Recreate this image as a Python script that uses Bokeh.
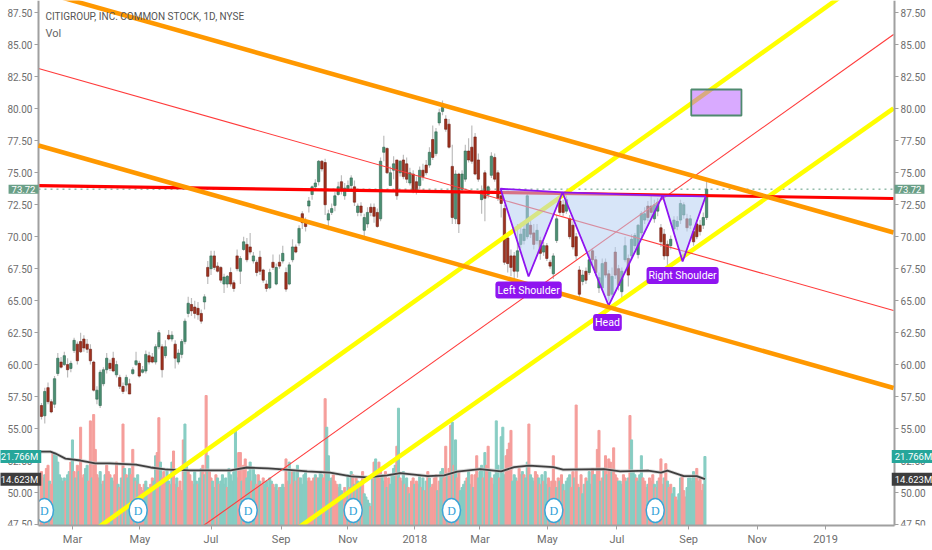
from bokeh.embed import file_html
from bokeh.resources import INLINE
from bokeh.plotting import figure
from bokeh.models import Range1d, LinearAxis, FixedTicker, Label, BoxAnnotation, ColumnDataSource

FONT = "Roboto"

title_text = "CITIGROUP, INC. COMMON STOCK, 1D, NYSE"
price_ticks = [87.5, 85, 82.5, 80, 77.5, 75, 72.5, 70, 67.5, 65, 62.5, 60, 57.5, 55, 52.5, 50, 47.5]
month_bars = [19, 60.4, 104, 147, 188, 229, 269, 310.4, 353, 397, 439, 481]
month_labels = ["Mar", "May", "Jul", "Sep", "Nov", "2018", "Mar", "May", "Jul", "Sep", "Nov", "2019"]

# one candle per two sessions
candle_open = [
 56.8,56.0,58.2,57.1,56.9,59.3,60.2,60.0,60.0,59.7, 61.1,61.6,61.8,62.0,61.6,61.2,60.2,57.3,56.8,58.5,
 59.6,60.1,60.5,59.2,59.0,58.3,58.4,58.5,59.3,60.0, 60.1,59.4,59.5,60.7,60.6,60.2,61.4,61.4,60.7,62.3,
 62.0,61.6,60.2,60.8,61.8,64.0,64.7,64.5,64.4,64.0, 64.9,67.6,67.5,68.5,67.7,67.6,66.3,66.3,67.2,66.4,
 68.5,67.3,69.0,69.4,69.2,68.1,68.0,68.4,67.4,66.3, 66.0,68.0,66.3,68.0,68.1,67.2,66.3,68.2,69.2,69.5,
 71.8,71.2,72.4,73.3,73.9,74.3,75.9,75.8,71.3,71.9, 72.45,73.3,74.3,73.2,73.7,74.0,73.9,71.9,72.4,70.5,
 71.0,72.3,72.3,71.9,71.4,76.6,76.9,74.0,75.2,76.0, 75.0,76.0,75.7,74.2,74.9,74.3,74.0,75.2,75.6,75.6,
 77.6,76.5,78.9,79.8,79.2,78.8,75.5,71.4,74.9,73.7, 74.5,76.7,77.0,77.8,76.0,72.9,75.0,73.3,74.8,76.2,
 75.0,73.2,72.2,69.9,68.5,68.5,67.3,69.4,69.7,70.0, 70.9,70.3,69.7,69.7,68.8,69.3,68.0,67.1,69.7,72.8,
 72.5,72.0,71.4,70.9,70.0,67.4,66.5,67.3,67.2,68.9, 68.2,66.0,66.0,68.0,67.1,65.5,68.8,67.5,65.7,68.2,
 68.3,68.5,69.3,68.6,70.3,71.3,72.4,72.4,71.4,72.0, 70.7,70.2,69.4,69.3,70.6,70.8,71.3,71.7,71.4,70.9,
 70.4,71.0,70.9,70.9,71.5]
candle_close = [
 55.95,57.9,57.1,56.3,58.9,60.5,59.8,60.7,59.6,60.1, 61.9,60.3,61.0,61.3,61.2,60.3,58.0,58.0,59.4,59.6,
 60.5,59.7,59.5,60.0,58.3,57.9,59.0,57.7,59.6,60.3, 59.1,59.6,60.8,60.2,60.2,61.4,62.5,59.6,61.4,62.0,
 62.3,60.5,60.9,61.8,63.4,64.8,64.2,64.0,63.9,63.4, 65.3,66.9,68.5,67.6,67.3,66.6,66.85,66.9,66.3,65.95,
 67.5,68.3,69.6,68.2,68.8,68.5,67.2,67.3,66.6,65.95, 67.2,67.6,67.6,67.7,68.7,65.9,67.8,69.2,68.8,70.65,
 71.1,70.8,72.8,73.9,74.2,75.9,75.3,72.5,71.8,72.2, 73.2,73.9,73.7,73.8,74.0,74.6,72.7,72.4,71.9,71.5,
 71.9,71.9,71.6,70.8,75.9,77.0,75.0,75.0,75.7,73.2, 75.9,74.7,74.5,75.0,73.6,73.6,75.2,74.7,75.0,76.6,
 76.2,78.2,79.7,80.1,78.4,77.0,71.5,74.9,71.0,74.9, 76.7,76.0,75.9,74.9,74.5,73.6,73.0,73.9,76.3,74.5,
 73.0,72.6,68.0,67.9,67.6,67.3,68.9,70.2,70.6,73.2, 70.2,69.4,70.5,68.7,69.3,68.3,67.7,68.5,71.4,71.9,
 71.9,72.9,70.0,69.2,68.5,65.5,67.0,66.6,68.2,68.2, 67.2,66.8,67.9,67.0,65.4,66.9,67.0,66.2,67.3,69.3,
 67.0,69.8,70.1,70.9,71.8,71.8,71.5,71.9,72.5,72.7, 69.6,68.5,68.5,69.8,71.3,71.2,72.6,72.5,70.7,71.4,
 69.6,70.0,70.4,71.5,73.72]
candle_high = [
 57.0,58.2,58.6,57.3,59.1,60.9,60.6,61.0,60.5,60.3, 62.1,61.8,62.5,62.3,62.0,61.6,60.3,58.3,59.6,59.8,
 60.9,60.4,61.0,60.3,59.2,58.6,59.2,58.9,59.8,61.0, 60.3,59.9,61.1,61.0,60.9,61.6,62.7,61.6,61.9,62.7,
 62.6,61.9,61.2,62.0,63.6,65.3,65.2,65.0,64.9,64.3, 65.5,68.1,68.9,68.9,68.0,67.7,67.1,67.0,67.6,66.6,
 69.0,68.5,70.0,69.9,70.3,68.8,68.2,68.9,67.5,66.6, 67.5,68.6,67.9,68.6,69.3,67.6,68.0,69.8,69.4,70.9,
 72.0,71.5,73.1,74.0,74.5,76.0,76.0,76.1,72.1,72.6, 73.5,74.3,74.8,74.2,74.4,74.8,74.4,72.6,72.7,71.8,
 72.3,72.6,72.6,72.2,76.2,77.9,77.0,75.5,76.3,76.0, 76.0,76.4,76.2,75.4,75.2,74.7,75.5,75.7,76.0,77.0,
 78.7,78.5,80.0,80.65,79.5,79.2,77.2,75.2,75.0,75.2, 77.2,77.7,78.7,78.1,76.5,74.0,75.2,74.0,76.6,76.5,
 75.2,73.5,72.5,70.2,69.0,68.8,71.0,71.1,71.0,73.4, 71.4,71.0,71.0,70.0,69.6,69.5,68.2,68.7,71.7,73.2,
 72.9,73.2,71.7,71.2,70.3,67.7,67.4,67.6,68.9,69.1, 68.5,67.2,68.3,68.3,67.4,67.6,69.2,67.8,67.6,70.0,
 68.6,70.2,70.3,71.0,72.0,72.3,72.8,73.2,72.9,73.0, 71.0,70.6,69.7,70.1,71.6,71.6,72.9,72.7,71.8,71.7,
 70.7,71.3,71.3,71.9,74.5]
candle_low = [
 55.7,55.4,56.9,56.2,56.6,59.1,59.7,59.9,59.0,59.4, 60.9,60.0,60.9,61.0,60.9,60.0,57.9,56.9,56.6,58.3,
 59.3,59.5,59.4,59.0,58.1,57.7,57.9,57.7,59.2,59.9, 59.0,59.3,59.3,60.0,60.1,60.0,61.2,59.0,60.5,61.9,
 61.8,59.7,60.0,60.5,61.6,63.7,63.8,63.6,63.5,63.2, 64.3,66.3,67.0,67.4,67.2,66.4,65.6,66.0,66.1,65.7,
 67.3,66.3,68.9,68.0,68.6,67.9,66.9,67.0,66.4,65.7, 65.9,67.4,66.2,67.5,67.9,65.7,66.2,68.0,68.7,69.3,
 70.6,70.4,71.9,72.9,73.6,74.0,75.1,71.7,70.5,71.7, 72.0,73.2,73.3,72.9,73.5,73.6,72.4,71.6,71.6,69.8,
 70.7,71.6,71.1,70.7,71.2,75.9,74.9,74.0,74.5,72.9, 74.7,74.5,74.2,74.0,73.4,73.3,73.7,74.4,74.8,75.4,
 76.0,76.3,78.7,79.5,78.2,76.9,71.0,71.0,70.3,73.4, 74.3,75.8,75.7,74.8,74.3,71.8,71.2,73.0,74.6,74.3,
 72.8,71.5,67.8,67.2,66.9,66.7,66.8,69.1,69.4,69.8, 69.9,69.0,69.4,68.2,68.5,68.1,67.5,66.7,69.5,71.7,
 71.6,71.8,69.8,69.0,68.2,65.0,66.2,66.3,67.0,67.9, 66.9,65.6,65.8,66.8,65.0,65.3,66.7,65.8,65.0,68.0,
 66.1,68.2,69.0,68.3,70.0,71.0,71.2,71.5,71.1,71.6, 69.2,68.2,67.6,69.0,70.3,70.5,71.0,71.4,70.4,70.6,
 69.3,69.8,70.1,70.6,71.3]

# daily volume in millions
volumes = [
 17,15,16,18,19,14,13,23,23,22, 20,16,15,14,15,14,16,17,20,27, 17,15,19,17,31,15,16,18,19,14,
 33,15,35,24,16,15,17,13,14,16, 19,17,16,15,14,16,20,13,12,15, 32,18,16,15,18,16,24,15,14,16,
 13,12,11,13,14,12,10,13,15,14, 22,23,34,20,15,17,14,18,14,13, 20,23.5,13,15,12,14,11,27,32,19,
 17,16,14,13,17,14,13,15,18,19, 16,41,22,17,15,14,12,16,15,13, 14,16,13,15,12,18,16,14,17,30,
 15,23,23,14,19,21,15,17,20,14, 18,16,13,16,14,13,15,13,14,12, 15,14,13,12,13,11,12,12,13,12,
 21,14,20,13,17,17,14,19,15,15, 13,16,17,14,15,14,14,15,16,15, 15,17,16,15,40,31,22,14,15,16,
 14,13,12,13,11,10,12,10,16,12, 17,16,13,15,14,12,14,17,10,9, 8,7,6,15,20,21,16,20,18,16,
 14,17,12,15,13,16,18,19,25,37, 15,14,17,13,15,12,10,14,15,13, 14,13,16,12,15,11,14,17,15,12,
 13,15,16,11,14,17,18,15,25,16, 18,31.6,32.6,19,27,15,17,11,12,13, 14,15,17,13,16,12,16,22,15,17,
 19,15,23,19,25,17,15,13,16,33, 19,15,28,31,16,22,24,26,30,14, 16,15,14,18,16,17,16,15,20,32,
 16,15,14,17,16,15,13,16,14,17, 13,15,12,14,22,14,12,15,14,16, 13,11,14,15,16,12,17,15,38,13,
 12,16,10,13,15,14,17,13,18,16, 16,24,30,14,15,18,22,16,21,20, 17,24.5,16,15,14,14,13,16,15,14,
 15,34.7,27,17,16,15,14,16,22,15, 14,12,13,15,14,16,13,12,14,15, 21,13,15,19.5,14,12,13,10,12,9,
 8,10,15,16,11,9,12,15,15,14, 17,15,18,14,15,11,13,21.766]
volume_dir = (
 "dduddudduu" "uuuuuduudu" "dududdduud"
 "dudddduudu" "ddduuddudu" "duduuddudu"
 "dddduudddu" "udduddduud" "uddudddduu"
 "dddduuduud" "ududduudud" "uuuuduuuuu"
 "uddudduuud" "uuddudduud" "uudduuduuu"
 "dduddududu" "uuuuddddud" "uuudduudud"
 "ddduuuddud" "ududududuu" "uudududddu"
 "ududuuuudu" "ddudududdu" "ddudududud"
 "ddduduuddu" "ddududduuu" "uduududduu"
 "ududdudduu" "uduuuddddu" "uuddduduud"
 "uuuddududu" "ududddudud" "uduuuddudd"
 "uduuduuudu" "uddudududd" "uddduuuddu"
 "uduuuduuud" "ddudddudud" "ddududduud"
 "duuddduuuu" "uuddddduu" "u")

ma_bars = [-0.6,5.5,8.6,14.7,24,33,42,58,67,76,91,116,126,139,148,163,177,190,200,212,220,237,247,255,269,282,290,299,314,320,345,355,372,380,384,394,402,407]
ma_values = [23.3,23.3,22.7,21.1,20.5,19.6,19.6,19.2,18.3,17.7,17.4,17.4,18.3,18.0,17.7,17.1,16.7,15.5,15.2,15.8,16.5,15.6,15.8,17.0,17.8,17.1,18.4,18.9,18.4,17.6,17.8,17.1,17.3,16.7,17.3,15.6,15.6,14.623]

dividend_bars = [1.8, 59.3, 126.8, 191.2, 251.5, 314.3, 376.5]
dividend_level = 48.59

upper_bars, upper_prices = [-1.84, 522.7], [89.22, 70.33]
lower_bars, lower_prices = [-1.84, 522.7], [77.13, 58.17]
mid_down_bars, mid_down_prices = [-1.84, 522.7], [83.15, 64.23]
yellow_a_bars, yellow_a_prices = [33, 495], [47.1, 89.2]
yellow_b_bars, yellow_b_prices = [157, 522.7], [47.2, 80.03]
mid_up_bars, mid_up_prices = [97, 522.7], [47.2, 85.81]
neck_bars, neck_prices = [-1.84, 522.7], [74.0, 72.99]

hs_left_bars, hs_left_prices = [281.6, 298.8, 319.6], [73.75, 66.89, 73.46]
hs_head_bars, hs_head_prices = [319.6, 347.9, 381], [73.46, 64.62, 73.22]
hs_right_bars, hs_right_prices = [381, 393.3, 407.4], [73.22, 68.06, 73.15]

box_bars, box_prices = [398.6, 429.4], [79.48, 81.51]

pattern_labels = ["Left Shoulder", "Head", "Right Shoulder"]
pattern_label_bars = [298.8, 347.2, 393.3]
pattern_label_prices = [65.83, 63.29, 66.97]

last_price = 73.72
last_volume = 21.766
last_ma = 14.623

GREEN, RED = "#4b8f72", "#a0321f"
GREEN_EDGE, RED_EDGE = "#2f6650", "#6b1f14"

# pane limits on the data scales
BAR_MIN, BAR_MAX = -1.84, 523.3
PRICE_MIN, PRICE_MAX = 47.42, 88.47

p = figure(width=932, height=550, output_backend="svg", toolbar_location=None,
           x_range=Range1d(-25.15, 546.6), y_range=Range1d(45.465, PRICE_MAX),
           min_border_left=0, min_border_right=0, min_border_top=0, min_border_bottom=0,
           background_fill_color="white", border_fill_color="white", outline_line_color=None)
p.extra_y_ranges = {"vol": Range1d(-25 / 3.17, 525 / 3.17)}
p.xgrid.visible = False
p.ygrid.visible = False

def style(ax):
    ax.axis_line_color = "#a0a0a0"
    ax.axis_line_width = 2
    ax.major_tick_line_color = "#a0a0a0"
    ax.major_tick_out = 4
    ax.major_tick_in = 0
    ax.minor_tick_line_color = None
    ax.major_label_text_font = FONT
    ax.major_label_text_font_size = "10px"
    ax.major_label_text_color = "#6e6e6e"
    ax.major_label_standoff = 2

xax = p.xaxis[0]
xax.ticker = FixedTicker(ticks=month_bars)
xax.major_label_overrides = {b: t for b, t in zip(month_bars, month_labels)}
style(xax)
xax.major_label_text_font_size = "11px"
xax.major_label_standoff = 4
xax.fixed_location = PRICE_MIN
xax.bounds = (BAR_MIN, BAR_MAX)

yax = p.yaxis[0]
yax.ticker = FixedTicker(ticks=price_ticks)
yax.major_label_overrides = {v: f"{v:.2f}" for v in price_ticks}
style(yax)
yax.fixed_location = BAR_MIN
yax.bounds = (PRICE_MIN, PRICE_MAX)

right = LinearAxis(ticker=FixedTicker(ticks=price_ticks),
                   major_label_overrides={v: f"{v:.2f}" for v in price_ticks},
                   fixed_location=BAR_MAX, bounds=(PRICE_MIN, PRICE_MAX))
style(right)
p.add_layout(right, "right")

# volume pane
vol_colors = ["#87cdc3" if d == "u" else "#f59e9b" for d in volume_dir]
vol_src = ColumnDataSource(dict(x=list(range(len(volumes))), top=volumes, c=vol_colors[:len(volumes)]))
p.vbar(x="x", top="top", bottom=0, width=1.25, color="c", source=vol_src, y_range_name="vol")
p.line(ma_bars, ma_values, y_range_name="vol", line_color="#c8c8c8", line_width=3.5, line_alpha=0.7)
p.line(ma_bars, ma_values, y_range_name="vol", line_color="#3f3f3f", line_width=1.8)

# candles
xs = [2 * i for i in range(len(candle_open))]
up = [c >= o for o, c in zip(candle_open, candle_close)]
src = ColumnDataSource(dict(
    x=xs, o=candle_open, c=candle_close, h=candle_high, l=candle_low,
    fill=[GREEN if u else RED for u in up], edge=[GREEN_EDGE if u else RED_EDGE for u in up]))
p.segment(x0="x", x1="x", y0="l", y1="h", line_color="#bdbdbd", line_width=1.2, source=src)
p.vbar(x="x", top="o", bottom="c", width=1.45, fill_color="fill", line_color="edge", line_width=0.6, source=src)

# last price dotted line
p.line([BAR_MIN, BAR_MAX], [last_price, last_price], line_color="#5d9a80", line_width=1, line_dash="dotted")

# trend lines
p.line(yellow_a_bars, yellow_a_prices, line_color="#ffff00", line_width=4.5)
p.line(yellow_b_bars, yellow_b_prices, line_color="#ffff00", line_width=4.5)
p.line(mid_down_bars, mid_down_prices, line_color="#ff3b3b", line_width=1.1)
p.line(mid_up_bars, mid_up_prices, line_color="#ff3b3b", line_width=1.1)
p.line(neck_bars, neck_prices, line_color="#ff0000", line_width=3.2)

# head and shoulders
for bx, by in [(hs_left_bars, hs_left_prices), (hs_head_bars, hs_head_prices), (hs_right_bars, hs_right_prices)]:
    p.patch(bx, by, fill_color="#b7cff2", fill_alpha=0.55, line_color="#8f14f0", line_width=1.8)

# box
p.quad(left=box_bars[0], right=box_bars[1], bottom=box_prices[0], top=box_prices[1],
       fill_color="#b455ff", fill_alpha=0.5, line_color="#4f8a6f", line_width=1.8)

# pattern labels
for t, bx, py in zip(pattern_labels, pattern_label_bars, pattern_label_prices):
    p.add_layout(Label(x=bx, y=py, text=t, text_align="center", text_baseline="middle",
                       text_color="white", text_font=FONT, text_font_size="10.5px",
                       background_fill_color="#8f14f0", padding=2, border_radius=3))

# channels above the labels
p.line(upper_bars, upper_prices, line_color="#ff9800", line_width=4.5)
low_line = p.line(lower_bars, lower_prices, line_color="#ff9800", line_width=4.5)
low_line.level = "annotation"

# dividend markers
p.ellipse(dividend_bars, [dividend_level] * len(dividend_bars), width=18, height=24,
          width_units="screen", height_units="screen",
          fill_color="white", line_color="#3aa5d8", line_width=1.5)
p.text(dividend_bars, [dividend_level] * len(dividend_bars), text=["D"] * len(dividend_bars),
       text_align="center", text_baseline="middle", text_color="#2ea0d8",
       text_font=FONT, text_font_size="12px")

# white margins around the pane, under the axes
p.quad(left=[-25.15, BAR_MAX, -25.15], right=[BAR_MIN, 546.6, 546.6],
       bottom=[45.465, 45.465, 45.465], top=[PRICE_MAX, PRICE_MAX, PRICE_MIN],
       fill_color="white", line_color=None)

# mask the half-cut bottom price labels
for l, r in [(0, 36), (896, 932)]:
    p.add_layout(BoxAnnotation(left=l, right=r, left_units="screen", right_units="screen",
                               top=PRICE_MIN, bottom=46.6, fill_color="white", fill_alpha=1,
                               line_alpha=0))

# header
p.add_layout(Label(x=45, y=87.18, x_units="screen", text=title_text, text_baseline="middle",
                   text_color="#555555", text_font=FONT, text_font_size="10px"))
p.add_layout(Label(x=45, y=85.89, x_units="screen", text="Vol", text_baseline="middle",
                   text_color="#666666", text_font=FONT, text_font_size="11px"))

# price tags
def tag(sx, y, text, bg, rng="default"):
    p.add_layout(Label(x=sx, y=y, x_units="screen", y_range_name=rng, text=text,
                       text_align="center", text_baseline="middle", text_color="white",
                       text_font=FONT, text_font_size="9.5px",
                       background_fill_color=bg, padding=(3, 1)))

tag(23, last_price, f"{last_price:.2f}", "#6a9f87")
tag(909, last_price, f"{last_price:.2f}", "#6a9f87")
tag(19, last_volume, f"{last_volume:.3f}M", "#26a69a", "vol")
tag(913, last_volume, f"{last_volume:.3f}M", "#26a69a", "vol")
tag(19, last_ma, f"{last_ma:.3f}M", "#3d3d3d", "vol")
tag(913, last_ma, f"{last_ma:.3f}M", "#3d3d3d", "vol")

open("out.html", "w").write(file_html(p, INLINE))
